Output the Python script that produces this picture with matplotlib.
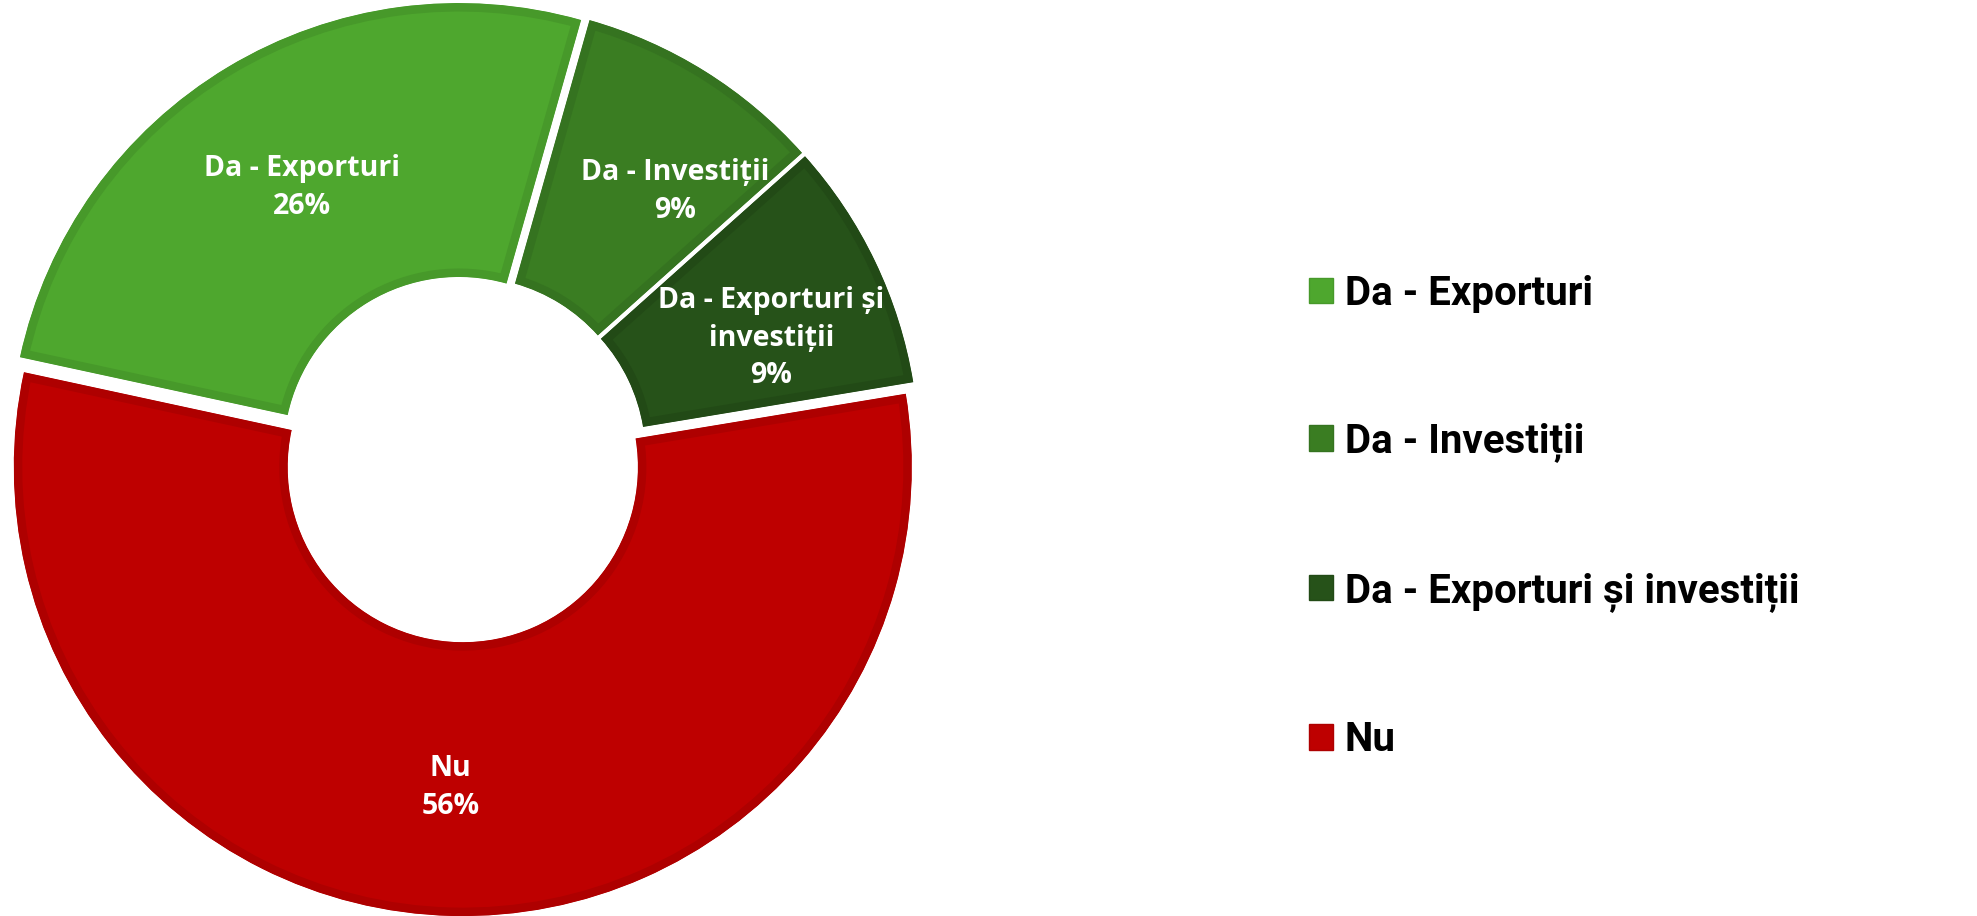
import numpy as np
import matplotlib
matplotlib.use("Agg")
import matplotlib.pyplot as plt
import matplotlib.patches as mpatches

# date
categorii = ["Da - Exporturi", "Da - Investiții", "Da - Exporturi și investiții", "Nu"]
etichete = ["Da - Exporturi", "Da - Investiții", "Da - Exporturi și\ninvestiții", "Nu"]
procente = [26, 9, 9, 56]

culori = ["#4EA72E", "#3A7D22", "#265219", "#BE0000"]
margini = ["#47992A", "#357320", "#224A16", "#AE0000"]
# mici deplasari ale etichetelor (puncte)
nudge = [(7, -9), (26, -10), (7, -16), (-3, 2)]

W, H = 1977, 916
fig = plt.figure(figsize=(W / 100, H / 100), dpi=100)

R = 449.0
cx, cy = 463.0, 459.0   # centru in pixeli (de sus)
ax = fig.add_axes([0, 0, 926 / W, 1])
wedges, _ = ax.pie(procente, colors=culori, startangle=167.8, counterclock=False,
                   explode=[0.018] * 4, radius=1.0,
                   wedgeprops=dict(width=0.61, linewidth=12.2))
# margine interioara: conturul e taiat de propria felie
for w, ec in zip(wedges, margini):
    w.set_edgecolor(ec)
    w.set_clip_on(True)
    w.set_clip_path(w)

ax.set_xlim(-cx / R, (926 - cx) / R)
ax.set_ylim(-(H - cy) / R, cy / R)

lab_font = ["Open Sans", "DejaVu Sans"]
for w, et, p, (dx, dy) in zip(wedges, etichete, procente, nudge):
    mid = np.deg2rad((w.theta1 + w.theta2) / 2)
    x = w.center[0] + 0.72 * np.cos(mid)
    y = w.center[1] + 0.72 * np.sin(mid)
    ax.annotate(f"{et}\n{p}%", (x, y), xytext=(dx, dy), textcoords="offset points",
                ha="center", va="center", color="white", fontsize=20.5,
                fontweight="bold", family=lab_font, linespacing=1.4)

handles = [mpatches.Patch(facecolor=c, edgecolor=e, linewidth=1) for c, e in zip(culori, margini)]
fig.legend(handles, categorii, loc="center left", bbox_to_anchor=(1309 / W, 1 - 517 / H),
           frameon=False, handlelength=0.6, handleheight=0.6,
           handletextpad=0.29, labelspacing=2.72, borderpad=0, borderaxespad=0,
           prop=dict(family=["Roboto", "DejaVu Sans"], weight="bold", size=29))

fig.savefig("out.png", dpi=100, facecolor="white")
